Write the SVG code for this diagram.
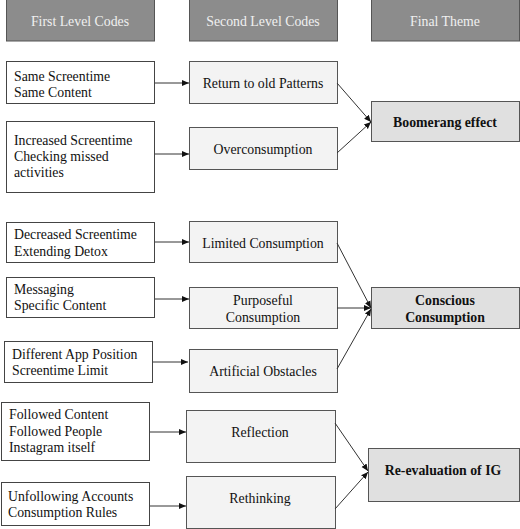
<svg xmlns="http://www.w3.org/2000/svg" width="520" height="529" viewBox="0 0 520 529">
<defs>
<marker id="ah" markerWidth="8" markerHeight="8" refX="7" refY="4" orient="auto" markerUnits="userSpaceOnUse">
<path d="M0,1 L7,4 L0,7 Z" fill="#111"/>
</marker>
</defs>
<style>
text{font-family:'Liberation Serif','Tinos','Times New Roman','DejaVu Serif',serif;font-size:13.8px;fill:#111}
.hdr rect{fill:#8c8c8c;stroke:#555;stroke-width:1}
.hdr text{fill:#f0f0f0;text-anchor:middle}
.l1 rect{fill:#fff;stroke:#444;stroke-width:1}
.l2 rect{fill:#f3f3f3;stroke:#555;stroke-width:1}
.l2 text{text-anchor:middle}
.th rect{fill:#e0e0e0;stroke:#555;stroke-width:1}
.th text{text-anchor:middle;font-weight:bold}
#connectors line{stroke:#333;stroke-width:1;marker-end:url(#ah)}
</style>
<rect width="520" height="529" fill="#fff"/>
<g id="h1" class="hdr"><rect x="6.5" y="-1" width="148" height="42"/><text x="80" y="26">First Level Codes</text></g>
<g id="h2" class="hdr"><rect x="189.5" y="-1" width="148" height="42"/><text x="263" y="26">Second Level Codes</text></g>
<g id="h3" class="hdr"><rect x="371.5" y="-1" width="148" height="42"/><text x="445" y="26">Final Theme</text></g>

<g id="a1" class="l1"><rect x="6.5" y="61.5" width="148" height="42"/><text x="14" y="81">Same Screentime</text><text x="14" y="97">Same Content</text></g>
<g id="a2" class="l1"><rect x="6.5" y="121.5" width="148" height="71"/><text x="14" y="145">Increased Screentime</text><text x="14" y="161">Checking missed</text><text x="14" y="177">activities</text></g>
<g id="a3" class="l1"><rect x="6.5" y="222.5" width="148" height="40"/><text x="14" y="239">Decreased Screentime</text><text x="14" y="256">Extending Detox</text></g>
<g id="a4" class="l1"><rect x="6.5" y="277.5" width="148" height="40"/><text x="14" y="294">Messaging</text><text x="14" y="310">Specific Content</text></g>
<g id="a5" class="l1"><rect x="4.5" y="341.5" width="148" height="41"/><text x="12" y="359">Different App Position</text><text x="12" y="375">Screentime Limit</text></g>
<g id="a6" class="l1"><rect x="1.5" y="402.5" width="148" height="58"/><text x="9" y="419">Followed Content</text><text x="9" y="436">Followed People</text><text x="9" y="452">Instagram itself</text></g>
<g id="a7" class="l1"><rect x="1.5" y="482.5" width="148" height="43"/><text x="8" y="501">Unfollowing Accounts</text><text x="8" y="517">Consumption Rules</text></g>

<g id="b1" class="l2"><rect x="189.5" y="61.5" width="148" height="42"/><text x="263" y="88">Return to old Patterns</text></g>
<g id="b2" class="l2"><rect x="189.5" y="127.5" width="148" height="42"/><text x="263" y="154">Overconsumption</text></g>
<g id="b3" class="l2"><rect x="189.5" y="221.5" width="148" height="41"/><text x="263" y="248">Limited Consumption</text></g>
<g id="b4" class="l2"><rect x="189.5" y="287.5" width="148" height="41"/><text x="263" y="305">Purposeful</text><text x="263" y="322">Consumption</text></g>
<g id="b5" class="l2"><rect x="189.5" y="349.5" width="148" height="43"/><text x="263" y="376">Artificial Obstacles</text></g>
<g id="b6" class="l2"><rect x="186.5" y="410.5" width="149" height="52"/><text x="260" y="437">Reflection</text></g>
<g id="b7" class="l2"><rect x="186.5" y="476.5" width="149" height="52"/><text x="260" y="503">Rethinking</text></g>

<g id="t1" class="th"><rect x="371.5" y="101.5" width="148" height="40"/><text x="445" y="127">Boomerang effect</text></g>
<g id="t2" class="th"><rect x="371.5" y="287.5" width="148" height="41"/><text x="445" y="305">Conscious</text><text x="445" y="322">Consumption</text></g>
<g id="t3" class="th"><rect x="368.5" y="448.5" width="151" height="53"/><text x="443" y="475">Re-evaluation of IG</text></g>

<g id="connectors">
<line x1="155" y1="83" x2="189" y2="83"/>
<line x1="155" y1="154" x2="189" y2="154"/>
<line x1="155" y1="242" x2="189" y2="242"/>
<line x1="155" y1="299" x2="189" y2="299"/>
<line x1="153" y1="362" x2="188" y2="362"/>
<line x1="150" y1="432" x2="186" y2="432"/>
<line x1="150" y1="506" x2="186" y2="506"/>
<line x1="337" y1="83" x2="371" y2="122"/>
<line x1="337" y1="153" x2="371" y2="122"/>
<line x1="337" y1="243" x2="371" y2="308"/>
<line x1="337" y1="308" x2="371" y2="308"/>
<line x1="337" y1="369" x2="371" y2="309"/>
<line x1="335" y1="423" x2="368" y2="471"/>
<line x1="335" y1="509" x2="368" y2="472"/>
</g>
</svg>
